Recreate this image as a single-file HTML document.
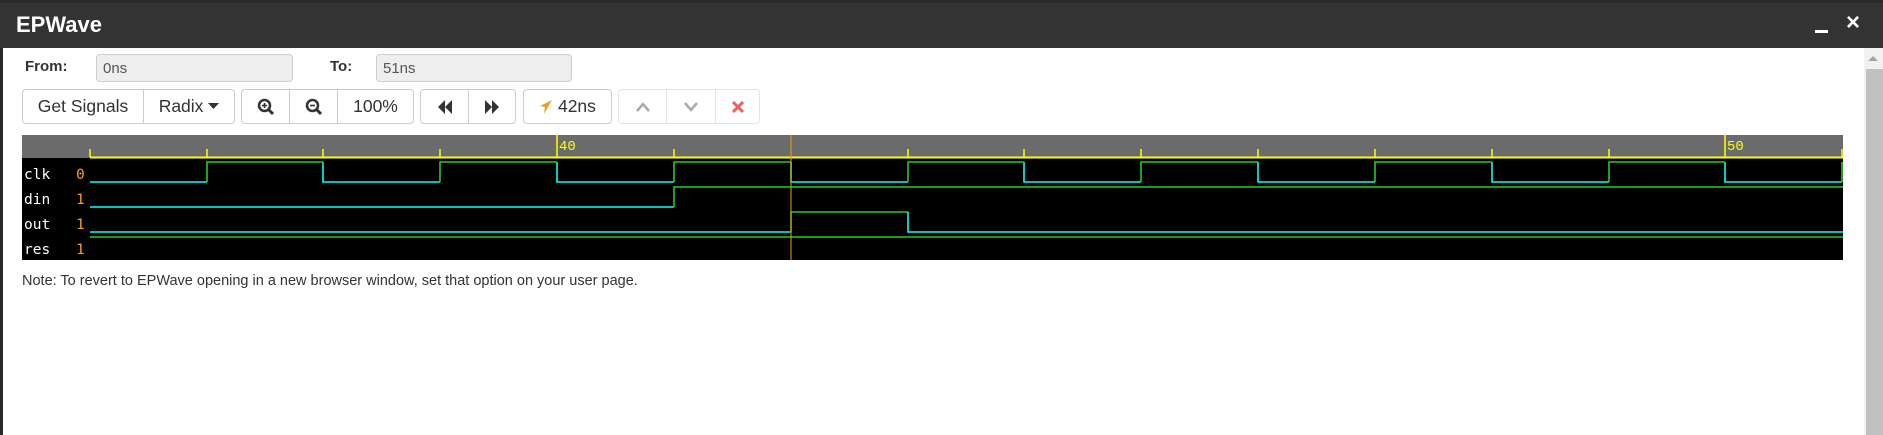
<!DOCTYPE html>
<html><head><meta charset="utf-8"><style>
*{margin:0;padding:0;box-sizing:border-box}
body{width:1883px;height:435px;background:#fff;position:relative;overflow:hidden;font-family:"Liberation Sans",Arial,sans-serif;color:#333}
.abs{position:absolute}
.tb{left:0;top:0;width:1883px;height:48px;background:#333;border-top:3px solid #2a2a2a}
.inp{background:#eee;border:1px solid #ccc;border-radius:4px;height:28px;font-size:15px;color:#555;padding:5px 6px;top:54px}
.grp{top:89px;height:35px;border:1px solid #ccc;border-radius:4px;background:#fff;display:flex}
.grp div{border-right:1px solid #ccc;display:flex;align-items:center;justify-content:center;font-size:17.5px;color:#333;height:100%}
.grp div:last-child{border-right:none}
</style></head><body>
<div class="abs tb"></div>
<div class="abs" style="left:0;top:48px;width:3px;height:387px;background:#2a2a2a"></div>
<div class="abs" style="left:16px;top:12px;font-size:22px;font-weight:bold;color:#fff">EPWave</div>
<div class="abs" style="left:1815px;top:30px;width:13px;height:3px;background:#fff"></div>
<div class="abs" style="left:1846px;top:9px;font-size:24px;font-weight:bold;color:#fff">×</div>
<div class="abs" style="left:1864px;top:48px;width:19px;height:387px;background:#f1f1f1"></div>
<div class="abs" style="left:1866px;top:69px;width:17px;height:366px;background:#c1c1c1"></div>
<div class="abs" style="left:1868px;top:56px;width:0;height:0;border-left:5px solid transparent;border-right:5px solid transparent;border-bottom:5px solid #a3a3a3"></div>

<div class="abs" style="left:25px;top:58px;font-size:15px;font-weight:bold">From:</div>
<div class="abs inp" style="left:96px;width:197px">0ns</div>
<div class="abs" style="left:330px;top:58px;font-size:15px;font-weight:bold">To:</div>
<div class="abs inp" style="left:376px;width:196px">51ns</div>

<div class="abs grp" style="left:22px;width:213px"><div style="width:121px">Get Signals</div><div style="flex:1">Radix&nbsp;<svg width="11" height="7"><path d="M0 0H11L5.5 6Z" fill="#333"/></svg></div></div>
<div class="abs grp" style="left:241px;width:173px">
<div style="width:48px"><svg width="18" height="18"><circle cx="7.5" cy="7.5" r="5.5" fill="none" stroke="#333" stroke-width="2.5"/><path d="M11.5 11.5L16 16" stroke="#333" stroke-width="3"/><path d="M5 7.5H10M7.5 5V10" stroke="#333" stroke-width="1.6"/></svg></div>
<div style="width:48px"><svg width="18" height="18"><circle cx="7.5" cy="7.5" r="5.5" fill="none" stroke="#333" stroke-width="2.5"/><path d="M11.5 11.5L16 16" stroke="#333" stroke-width="3"/><path d="M5 7.5H10" stroke="#333" stroke-width="1.6"/></svg></div>
<div style="flex:1">100%</div></div>
<div class="abs grp" style="left:420px;width:96px">
<div style="width:48px"><svg width="16" height="16"><path d="M8 1L1 8L8 15ZM15 1L8 8L15 15Z" fill="#333"/></svg></div>
<div style="flex:1"><svg width="16" height="16"><path d="M1 1L8 8L1 15ZM8 1L15 8L8 15Z" fill="#333"/></svg></div></div>
<div class="abs grp" style="left:523px;width:89px"><div style="flex:1"><svg width="14" height="16"><path d="M13 1L1 7L6 8L5 15Z" fill="#f0a020"/></svg>&nbsp;42ns</div></div>
<div class="abs grp" style="left:618px;width:142px;border-color:#e3e3e3">
<div style="width:48px;border-color:#e3e3e3"><svg width="14" height="10"><path d="M1 9L7 2L13 9" fill="none" stroke="#aaa" stroke-width="2.5"/></svg></div>
<div style="width:49px;border-color:#e3e3e3"><svg width="14" height="10"><path d="M1 1L7 8L13 1" fill="none" stroke="#aaa" stroke-width="2.5"/></svg></div>
<div style="flex:1"><svg width="12" height="12"><path d="M1 1L11 11M11 1L1 11" stroke="#f06060" stroke-width="3"/></svg></div></div>

<svg class="abs" style="left:0;top:0" width="1883" height="435">
<rect x="22" y="135" width="1821" height="23" fill="#6b6b6b"/>
<rect x="22" y="158" width="1821" height="102" fill="#000"/>
<line x1="90" y1="157.5" x2="1843" y2="157.5" stroke="#ffff00" stroke-width="2"/>
<g stroke="#ffff00" stroke-width="1.5">
<line x1="90" y1="149" x2="90" y2="157"/><line x1="207" y1="149" x2="207" y2="157"/><line x1="323" y1="149" x2="323" y2="157"/><line x1="440" y1="149" x2="440" y2="157"/><line x1="557" y1="135" x2="557" y2="157"/><line x1="674" y1="149" x2="674" y2="157"/><line x1="908" y1="149" x2="908" y2="157"/><line x1="1024" y1="149" x2="1024" y2="157"/><line x1="1141" y1="149" x2="1141" y2="157"/><line x1="1258" y1="149" x2="1258" y2="157"/><line x1="1375" y1="149" x2="1375" y2="157"/><line x1="1492" y1="149" x2="1492" y2="157"/><line x1="1609" y1="149" x2="1609" y2="157"/><line x1="1725" y1="135" x2="1725" y2="157"/><line x1="1842" y1="149" x2="1842" y2="157"/>
</g>
<g font-family="Liberation Mono,monospace" font-size="14" fill="#ffff00"><text x="559" y="150">40</text><text x="1727" y="150">50</text></g>
<g font-family="DejaVu Sans Mono,monospace" font-size="14.5">
<text x="24" y="179" fill="#fff">clk</text><text x="76" y="179" fill="#f0a020">0</text>
<text x="24" y="204" fill="#fff">din</text><text x="76" y="204" fill="#f0a020">1</text>
<text x="24" y="229" fill="#fff">out</text><text x="76" y="229" fill="#f0a020">1</text>
<text x="24" y="254" fill="#fff">res</text><text x="76" y="254" fill="#f0a020">1</text>
</g>
<g stroke-width="1.6" fill="none">
<g stroke="#00ffff">
<path d="M90 182H207"/><path d="M323 162V182H440"/><path d="M557 162V182H674"/><path d="M791 162V182H908"/><path d="M1024 162V182H1141"/><path d="M1258 162V182H1375"/><path d="M1492 162V182H1609"/><path d="M1725 162V182H1842"/>
</g>
<g stroke="#22cc22">
<path d="M207 182V162H323"/><path d="M440 182V162H557"/><path d="M674 182V162H791"/><path d="M908 182V162H1024"/><path d="M1141 182V162H1258"/><path d="M1375 182V162H1492"/><path d="M1609 182V162H1725"/><path d="M1842 182V162"/>
</g>
<path d="M90 207H674" stroke="#00ffff"/><path d="M674 207V187H1843" stroke="#22cc22"/>
<path d="M90 232H791" stroke="#00ffff"/><path d="M791 232V212H908" stroke="#22cc22"/><path d="M908 212V232H1843" stroke="#00ffff"/>
<path d="M90 237H1843" stroke="#22cc22"/>
</g>
<line x1="791" y1="135" x2="791" y2="260" stroke="#e8a000" stroke-width="1"/>
</svg>
<div class="abs" style="left:22px;top:273px;font-size:14.5px;color:#333">Note: To revert to EPWave opening in a new browser window, set that option on your user page.</div>
</body></html>
